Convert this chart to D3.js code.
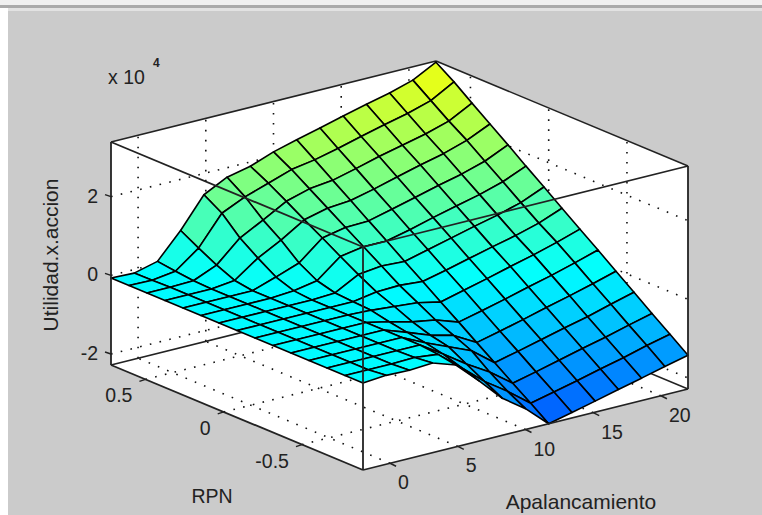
<!DOCTYPE html>
<html>
<head>
<meta charset="utf-8">
<script src="https://cdn.jsdelivr.net/npm/d3@7"></script>
<style>
  html, body { margin: 0; padding: 0; background: #fff; }
  text { font-family: "Liberation Sans", Arial, sans-serif; fill: #222; }
</style>
</head>
<body>
<div id="chart"></div>
<script>
// grid of the surface (15 points each way), z is in units of 10^4
var apalancamiento = [-2, -0.29, 1.43, 3.14, 4.86, 6.57, 8.29, 10, 11.71, 13.43, 15.14, 16.86, 18.57, 20.29, 22];
var rpn = [-0.89, -0.775, -0.66, -0.545, -0.43, -0.315, -0.2, -0.085, 0.03, 0.145, 0.26, 0.375, 0.49, 0.605, 0.72];

// one row per value of apalancamiento, columns follow rpn
var utilidad0 = [-0.07, -0.07, -0.07, -0.07, -0.07, -0.07, -0.07, -0.07, -0.07, -0.07, -0.07, -0.07, -0.07, -0.07, -0.07];
var utilidad1 = [-0.02, -0.07, -0.07, -0.07, -0.07, -0.07, -0.07, -0.07, -0.07, -0.07, -0.07, -0.07, -0.07, -0.08, -0.09];
var utilidad2 = [-0.04, -0.07, -0.07, -0.07, -0.07, -0.07, -0.07, -0.07, -0.07, -0.07, -0.07, -0.07, -0.05, 0.0, 0.06];
var utilidad3 = [0.0, -0.05, -0.07, -0.07, -0.07, -0.07, -0.07, -0.07, -0.07, -0.07, -0.07, 0.0, 0.2, 0.44, 0.70];
var utilidad4 = [-0.2, -0.12, -0.07, -0.07, -0.07, -0.07, -0.07, -0.07, -0.07, -0.03, 0.13, 0.42, 0.74, 1.18, 1.46];
var utilidad5 = [-0.75, -0.6, -0.45, -0.35, -0.28, -0.2, -0.1, -0.07, -0.04, 0.08, 0.34, 0.73, 1.05, 1.45, 1.76];
var utilidad6 = [-1.34, -1.1, -0.85, -0.6, -0.5, -0.35, -0.15, 0.03, 0.28, 0.55, 0.83, 1.1, 1.38, 1.65, 1.89];
var utilidad7 = [-1.75, -1.5, -1.2, -0.85, -0.65, -0.45, -0.2, 0.05, 0.35, 0.65, 0.95, 1.25, 1.55, 1.85, 2.11];
var utilidad8 = [-2.28, -1.95, -1.63, -1.3, -0.98, -0.65, -0.33, 0.0, 0.32, 0.65, 0.97, 1.3, 1.62, 1.95, 2.27];
var utilidad9 = [-2.14, -1.81, -1.49, -1.16, -0.84, -0.51, -0.18, 0.14, 0.47, 0.79, 1.12, 1.44, 1.77, 2.09, 2.42];
var utilidad10 = [-2.0, -1.67, -1.34, -1.01, -0.69, -0.36, -0.03, 0.29, 0.62, 0.95, 1.27, 1.6, 1.93, 2.25, 2.58];
var utilidad11 = [-1.85, -1.52, -1.19, -0.86, -0.53, -0.2, 0.13, 0.44, 0.77, 1.1, 1.43, 1.76, 2.07, 2.4, 2.73];
var utilidad12 = [-1.71, -1.38, -1.05, -0.72, -0.38, -0.05, 0.28, 0.58, 0.91, 1.24, 1.57, 1.9, 2.21, 2.54, 2.87];
var utilidad13 = [-1.56, -1.22, -0.89, -0.55, -0.22, 0.12, 0.45, 0.75, 1.08, 1.42, 1.75, 2.09, 2.39, 2.72, 3.05];
var utilidad14 = [-1.42, -1.08, -0.74, -0.39, -0.05, 0.3, 0.64, 0.98, 1.33, 1.67, 2.02, 2.36, 2.7, 3.05, 3.36];
var utilidad = [utilidad0, utilidad1, utilidad2, utilidad3, utilidad4, utilidad5, utilidad6, utilidad7,
  utilidad8, utilidad9, utilidad10, utilidad11, utilidad12, utilidad13, utilidad14];

var xTicks = [0, 5, 10, 15, 20];
var yTicks = [-0.5, 0, 0.5];
var zTicks = [-2, 0, 2];

var xDomain = [-2, 22];
var yDomain = [-0.89, 0.72];
var zDomain = [-2.28, 3.39];

var width = 762, height = 515;

var svg = d3.select("#chart").append("svg")
  .attr("width", width)
  .attr("height", height)
  .style("display", "block");

// window background
svg.append("rect").attr("width", width).attr("height", height).attr("fill", "#fff");
svg.append("rect").attr("width", width).attr("height", 5).attr("fill", "#f0f0f0");
svg.append("rect").attr("y", 5).attr("width", width).attr("height", 3).attr("fill", "#aaa");
svg.append("rect").attr("x", 8).attr("y", 8).attr("width", width - 8).attr("height", 3).attr("fill", "#e2e2e2");
svg.append("rect").attr("x", 8).attr("y", 11).attr("width", width - 8).attr("height", height - 11).attr("fill", "#cbcbcb");

// the 3d box is a plain parallel projection, each data axis moves the point
// along one edge of the box on screen
var xScaleSx = d3.scaleLinear().domain(xDomain).range([0, 325]);
var xScaleSy = d3.scaleLinear().domain(xDomain).range([0, -81]);
var yScaleSx = d3.scaleLinear().domain(yDomain).range([0, -252]);
var yScaleSy = d3.scaleLinear().domain(yDomain).range([0, -105]);
var zScaleSy = d3.scaleLinear().domain(zDomain).range([0, -223]);

function project(x, y, z) {
  return [363 + xScaleSx(x) + yScaleSx(y), 470 + xScaleSy(x) + yScaleSy(y) + zScaleSy(z)];
}

var colorScale = d3.scaleLinear()
  .domain([-3.4, 0, 1.7, 3.4])
  .range(["#0000ff", "#00ffff", "#80ff80", "#ffff00"])
  .clamp(true);

var line = d3.line();

function seg(g, a, b) {
  g.append("path").attr("d", line([a, b])).attr("fill", "none");
}

var xMin = xDomain[0], xMax = xDomain[1];
var yMin = yDomain[0], yMax = yDomain[1];
var zMin = zDomain[0], zMax = zDomain[1];

// white box outline
svg.append("path")
  .attr("d", line([
    project(xMin, yMin, zMin), project(xMax, yMin, zMin), project(xMax, yMin, zMax),
    project(xMax, yMax, zMax), project(xMin, yMax, zMax), project(xMin, yMax, zMin)
  ]) + "Z")
  .attr("fill", "#fff");

// dotted grid on the floor and the two back walls
var grid = svg.append("g")
  .attr("stroke", "#111")
  .attr("stroke-width", 1.6)
  .attr("stroke-dasharray", "1.6,8.4");
xTicks.forEach(function (x) {
  seg(grid, project(x, yMin, zMin), project(x, yMax, zMin));
  seg(grid, project(x, yMax, zMin), project(x, yMax, zMax));
});
yTicks.forEach(function (y) {
  seg(grid, project(xMin, y, zMin), project(xMax, y, zMin));
  seg(grid, project(xMax, y, zMin), project(xMax, y, zMax));
});
zTicks.forEach(function (z) {
  seg(grid, project(xMin, yMax, z), project(xMax, yMax, z));
  seg(grid, project(xMax, yMax, z), project(xMax, yMin, z));
});

// back edges of the box
var back = svg.append("g").attr("stroke", "#222").attr("stroke-width", 1.6);
seg(back, project(xMin, yMax, zMin), project(xMax, yMax, zMin));
seg(back, project(xMax, yMin, zMin), project(xMax, yMax, zMin));
seg(back, project(xMax, yMax, zMin), project(xMax, yMax, zMax));
seg(back, project(xMin, yMax, zMax), project(xMax, yMax, zMax));
seg(back, project(xMax, yMin, zMax), project(xMax, yMax, zMax));

// surface, far cells first
var cells = [];
for (var i = apalancamiento.length - 2; i >= 0; i--) {
  for (var j = rpn.length - 2; j >= 0; j--) {
    cells.push({ i: i, j: j });
  }
}

svg.append("g").selectAll("path")
  .data(cells)
  .join("path")
  .attr("d", function (c) {
    var i = c.i, j = c.j;
    return line([
      project(apalancamiento[i], rpn[j], utilidad[i][j]),
      project(apalancamiento[i + 1], rpn[j], utilidad[i + 1][j]),
      project(apalancamiento[i + 1], rpn[j + 1], utilidad[i + 1][j + 1]),
      project(apalancamiento[i], rpn[j + 1], utilidad[i][j + 1])
    ]) + "Z";
  })
  .attr("fill", function (c) {
    var i = c.i, j = c.j;
    return colorScale((utilidad[i][j] + utilidad[i + 1][j] + utilidad[i + 1][j + 1] + utilidad[i][j + 1]) / 4);
  })
  .attr("stroke", "#000")
  .attr("stroke-width", 1.6)
  .attr("stroke-linejoin", "round");

// front edges drawn over the surface
var front = svg.append("g").attr("stroke", "#222").attr("stroke-width", 1.8);
seg(front, project(xMin, yMin, zMin), project(xMax, yMin, zMin));
seg(front, project(xMin, yMin, zMin), project(xMin, yMax, zMin));
seg(front, project(xMin, yMin, zMin), project(xMin, yMin, zMax));
seg(front, project(xMin, yMax, zMin), project(xMin, yMax, zMax));
seg(front, project(xMax, yMin, zMin), project(xMax, yMin, zMax));
seg(front, project(xMin, yMax, zMax), project(xMin, yMin, zMax));
seg(front, project(xMax, yMin, zMax), project(xMin, yMin, zMax));

// ticks
var ticks = svg.append("g").attr("stroke", "#222").attr("stroke-width", 1.4);
xTicks.forEach(function (x) {
  var p = project(x, yMin, zMin);
  seg(ticks, p, [p[0] + 6, p[1] + 3]);
});
yTicks.forEach(function (y) {
  var p = project(xMin, y, zMin);
  seg(ticks, p, [p[0] - 6, p[1] + 2]);
});
zTicks.forEach(function (z) {
  var p = project(xMin, yMax, z);
  seg(ticks, p, [p[0] - 6, p[1] - 2]);
});

// tick labels
var labelSize = "19.5px";
xTicks.forEach(function (x) {
  var p = project(x, yMin, zMin);
  svg.append("text").attr("x", p[0] + 8).attr("y", p[1] + 26)
    .style("font-size", labelSize).text(x);
});
yTicks.forEach(function (y) {
  var p = project(xMin, y, zMin);
  svg.append("text").attr("x", p[0] - 13).attr("y", p[1] + 23)
    .attr("text-anchor", "end").style("font-size", labelSize).text(y);
});
zTicks.forEach(function (z) {
  var p = project(xMin, yMax, z);
  svg.append("text").attr("x", p[0] - 13).attr("y", p[1] + 6)
    .attr("text-anchor", "end").style("font-size", labelSize).text(z);
});

// axis labels and exponent
svg.append("text").attr("x", 212).attr("y", 503).attr("text-anchor", "middle")
  .style("font-size", "19.5px").text("RPN");
svg.append("text").attr("x", 581).attr("y", 509).attr("text-anchor", "middle")
  .style("font-size", "21px").text("Apalancamiento");
svg.append("text").attr("transform", "translate(58,255) rotate(-90)").attr("text-anchor", "middle")
  .style("font-size", "21px").text("Utilidad.x.accion");
svg.append("text").attr("x", 108).attr("y", 84).style("font-size", "19.5px").text("x 10");
svg.append("text").attr("x", 153).attr("y", 67).style("font-size", "12px").style("font-weight", "bold").text("4");
</script>
</body>
</html>
